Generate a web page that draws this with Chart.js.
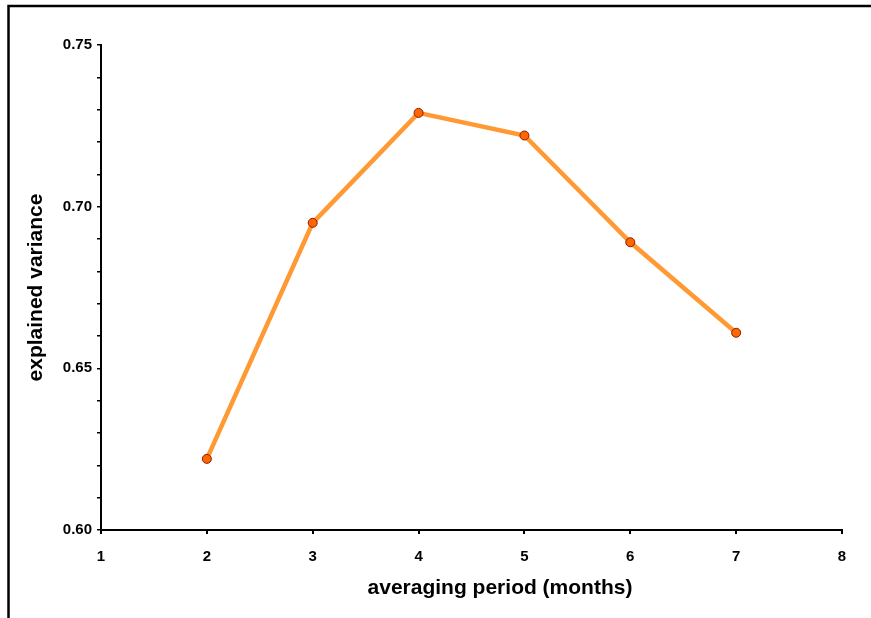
<!DOCTYPE html>
<html>
<head>
<meta charset="utf-8">
<script src="https://cdn.jsdelivr.net/npm/chart.js@4/dist/chart.umd.min.js"></script>
<style>
html,body{margin:0;padding:0;background:#fff;}
#wrap{width:871px;height:618px;position:relative;}
</style>
</head>
<body>
<div id="wrap"><canvas id="c" width="871" height="618"></canvas></div>
<script>
const months = [2, 3, 4, 5, 6, 7];
const explainedVariance = [0.622, 0.695, 0.729, 0.722, 0.689, 0.661];
const xTicks = [1, 2, 3, 4, 5, 6, 7, 8];
const yTicks = [0.60, 0.65, 0.70, 0.75];
const xTitle = 'averaging period (months)';
const yTitle = 'explained variance';

const points = months.map((m, i) => ({x: m, y: explainedVariance[i]}));

const frame = {
  id: 'frame',
  afterDraw(chart) {
    const ctx = chart.ctx;
    ctx.save();
    ctx.strokeStyle = '#000';
    ctx.lineWidth = 2.5;
    ctx.beginPath();
    ctx.moveTo(871, 6);
    ctx.lineTo(8.5, 6);
    ctx.lineTo(8.5, 618);
    ctx.stroke();
    ctx.fillStyle = '#000';
    ctx.font = 'bold 21px "Liberation Sans", Arial, sans-serif';
    ctx.textAlign = 'center';
    ctx.textBaseline = 'middle';
    ctx.fillText(xTitle, 500, 588);
    ctx.restore();
  }
};

new Chart(document.getElementById('c'), {
  type: 'scatter',
  data: {
    datasets: [{
      data: points,
      showLine: true,
      borderColor: '#FF9933',
      borderWidth: 4.5,
      pointRadius: 4.5,
      pointHoverRadius: 4.5,
      pointBackgroundColor: '#FF6600',
      pointBorderColor: '#8B1A00',
      pointBorderWidth: 1,
      tension: 0
    }]
  },
  options: {
    responsive: false,
    animation: false,
    layout: {padding: {left: 0, right: 29, top: 45, bottom: 0}},
    plugins: {legend: {display: false}, tooltip: {enabled: false}},
    scales: {
      x: {
        type: 'linear',
        min: xTicks[0], max: xTicks[xTicks.length - 1],
        afterBuildTicks(s) { s.ticks = xTicks.map(v => ({value: v})); },
        afterFit(s) { s.height = 88; },
        border: {display: true, color: '#000', width: 2},
        grid: {drawOnChartArea: false, drawTicks: true, tickLength: 4, color: '#000', lineWidth: 2},
        ticks: {color: '#000', padding: 14, font: {family: '"Liberation Sans", Arial, sans-serif', size: 15, weight: 'bold'}, maxRotation: 0}
      },
      y: {
        type: 'linear',
        min: 0.60, max: 0.75,
        afterBuildTicks(s) {
          const t = [];
          for (let i = 0; i <= 15; i++) t.push({value: Math.round((0.60 + i * 0.01) * 100) / 100});
          s.ticks = t;
        },
        afterFit(s) { s.width = 101; },
        border: {display: true, color: '#000', width: 2},
        grid: {drawOnChartArea: false, drawTicks: true, tickLength: 4, color: '#000', lineWidth: 1.5},
        ticks: {
          color: '#000', padding: 5, autoSkip: false,
          font: {family: '"Liberation Sans", Arial, sans-serif', size: 15, weight: 'bold'},
          callback(v) {
            const r = Math.round(v * 100) / 100;
            return yTicks.some(t => Math.abs(t - r) < 1e-9) ? r.toFixed(2) : '';
          }
        },
        title: {
          display: true, text: yTitle, color: '#000',
          font: {family: '"Liberation Sans", Arial, sans-serif', size: 21, weight: 'bold'},
          padding: {top: 24, bottom: 0}
        }
      }
    }
  },
  plugins: [frame]
});
</script>
</body>
</html>
